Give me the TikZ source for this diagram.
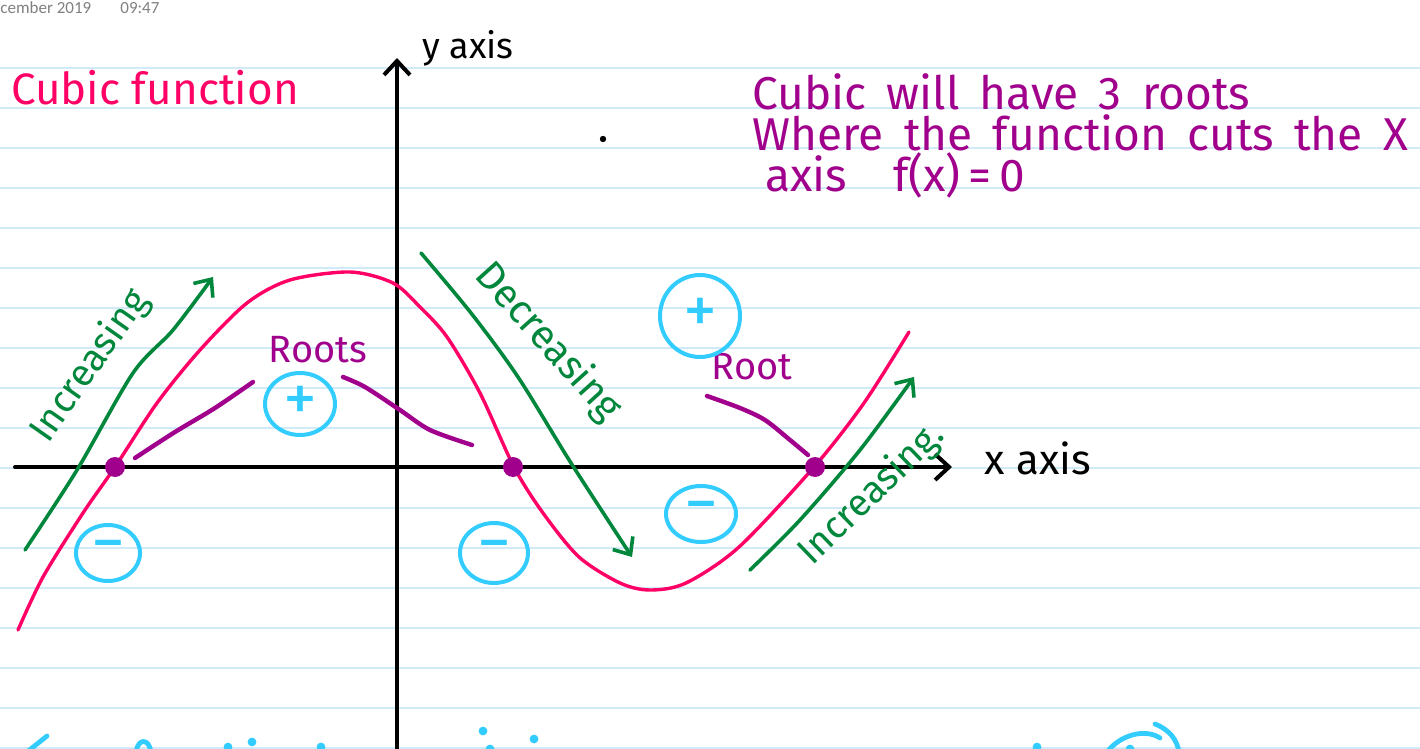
\documentclass[tikz,border=0pt]{standalone}
\usepackage{fontspec}
\setmainfont{Fira Sans}
\newfontfamily\datefont{Carlito}
\usetikzlibrary{arrows.meta,positioning,shapes.geometric}
\definecolor{penpink}{RGB}{255,0,102}
\definecolor{penpurple}{RGB}{160,0,140}
\definecolor{pengreen}{RGB}{0,135,60}
\definecolor{penblue}{RGB}{51,204,255}
\definecolor{ruleblue}{RGB}{208,234,248}
\definecolor{dategray}{RGB}{128,128,128}
\tikzset{
  rule/.style={draw=ruleblue, line width=0.7pt},
  axis/.style={line width=2pt, line cap=round,
               -{Straight Barb[length=7pt, width=13pt]}},
  curve/.style={draw=penpink, line width=1.7pt, line cap=round},
  trend/.style={draw=pengreen, line width=1.8pt, line cap=round,
                -{Straight Barb[length=7pt, width=12pt]}},
  ptr/.style={draw=penpurple, line width=2.2pt, line cap=round},
  rootdot/.style={circle, fill=penpurple, inner sep=0pt, minimum size=10pt},
  sign/.style={ellipse, draw=penblue, line width=2pt, text=penblue,
               inner sep=0pt, font=\fontsize{34}{34}\selectfont},
  bluemark/.style={draw=penblue, line width=2.4pt, line cap=round},
  lbl/.style={font=\fontsize{#1}{#1}\selectfont, inner sep=0pt},
  note/.style={lbl=23, text=penpurple, anchor=west,
               execute at begin node={\spaceskip=0.44em}},
}
\begin{document}
\begin{tikzpicture}[x=0.5pt, y=-0.5pt]
\clip (0,0) rectangle (1420,749);
\fill[white] (0,0) rectangle (1420,749);
% ruled paper
\foreach \yy in {68,108,...,748}
  \draw[rule] (0,\yy) -- (1420,\yy);
\node[lbl=8.5, text=dategray, anchor=west] (date) at (0,8) {\datefont cember 2019};
\node[lbl=8.5, text=dategray, anchor=west] (time) at (120,8) {\datefont 09:47};

% axes
\coordinate (xs) at (15,467);
\coordinate (xe) at (952,467);
\coordinate (ys) at (397,760);
\coordinate (ye) at (397,58);
\draw[axis] (xs) -- (xe);
\draw[axis] (ys) -- (ye);
\node[lbl=18] (ylab) at (468,48) {y axis};
\node[lbl=21] (xlab) at (1038,458) {x axis};

% headings
\node[lbl=22, text=penpink] (title) at (155,88) {Cubic function};
\node[note] (note1) at (752,92) {Cubic will have 3 roots};
\node[note] (note2) at (752,133) {Where the function cuts the X};
\node[note] (note3) at (765,175) {axis\quad f(x)\,=\,0};
\fill (603,139) circle (1.6pt);

% the cubic
\draw[curve] plot[smooth] coordinates {(18,630) (43,577) (83,513) (115,467)
  (157,403) (200,350) (247,303) (290,280) (350,272) (393,283) (420,307)
  (447,337) (480,393) (514,467) (543,513) (579,557) (620,583) (650,590)
  (686,583) (739,547) (814,467) (864,403) (909,332)};

% increasing / decreasing
\draw[trend] plot[smooth] coordinates {(25,550) (77,470) (133,373) (173,330) (213,277)};
\draw[trend] plot[smooth] coordinates {(421,253) (471,313) (518,377) (571,463) (632,557)};
\draw[trend] plot[smooth] coordinates {(750,570) (800,520) (860,450) (914,377)};
\node[lbl=19, text=pengreen, rotate=55] (inc1) at (90,366) {Increasing};
\node[lbl=20, text=pengreen, rotate=-48] (dec) at (548,342) {Decreasing};
\node[lbl=19, text=pengreen, rotate=44] (inc2) at (872,494) {Increasing.};

% roots
\node[rootdot] (r1) at (115,467) {};
\node[rootdot] (r2) at (513,467) {};
\node[rootdot] (r3) at (815,467) {};
\node[lbl=19, text=penpurple] (roots) at (318,350) {Roots};
\node[lbl=19, text=penpurple] (root) at (752,367) {Root};
\draw[ptr] plot[smooth] coordinates {(135,458) (175,432) (215,408) (253,382)};
\draw[ptr] plot[smooth] coordinates {(343,377) (365,387) (400,410) (430,430) (472,445)};
\draw[ptr] plot[smooth] coordinates {(707,396) (740,408) (765,420) (790,440) (808,455)};

% signs
\node[sign, minimum width=35pt, minimum height=31pt] (pos1) at (300,404) {+};
\node[sign, minimum width=40pt, minimum height=41pt] (pos2) at (700,316) {+};
\node[sign, minimum width=32pt, minimum height=28pt] (neg1) at (108,553) {−};
\node[sign, minimum width=34pt, minimum height=30pt] (neg2) at (494,553) {−};
\node[sign, minimum width=35pt, minimum height=28pt] (neg3) at (701,514) {−};

% next line of writing, cut off
\draw[bluemark] (27,752) -- (47,736);
\draw[bluemark] (136,752) .. controls (138,738) and (149,738) .. (151,752);
\foreach \px/\py in {228/747, 252/742, 321/747, 483/731, 490/749, 534/739, 1037/747, 1130/749}
  \fill[penblue] (\px,\py) circle (2.2pt);
\draw[bluemark] (1107,752) .. controls (1120,735) and (1145,728) .. (1160,738);
\draw[bluemark] (1155,724) .. controls (1170,730) and (1177,740) .. (1179,752);
\end{tikzpicture}
\end{document}
